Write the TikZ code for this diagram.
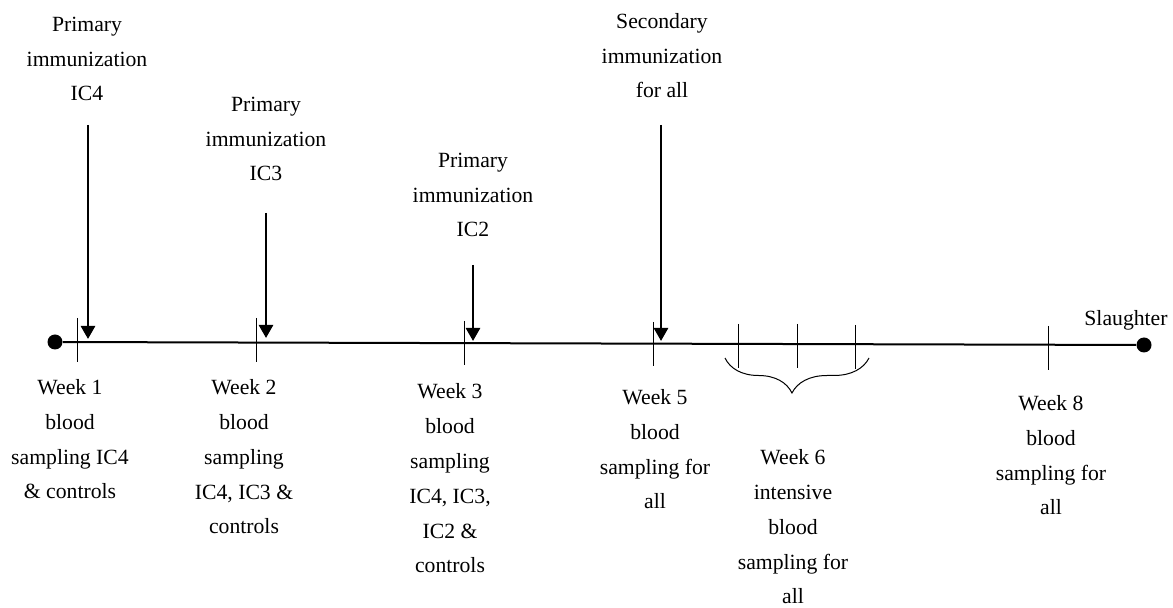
\documentclass[tikz,border=0pt]{standalone}
\usepackage{fontspec}
\setmainfont{Liberation Serif}
\usetikzlibrary{arrows.meta,decorations.pathreplacing}

\begin{document}
\begin{tikzpicture}[x=0.5pt,y=-0.5pt,
	font=\fontsize{10.85}{17.4}\selectfont,
	txt/.style={align=center, anchor=base, inner sep=0pt},
	dot/.style={circle, fill=black, inner sep=0pt, minimum size=7.5pt},
	timeline/.style={line width=1pt},
	strich/.style={line width=0.5pt},
	pfeil/.style={line width=1.3pt, -{Triangle[length=6.5pt,width=7pt]}},
	klammer/.style={line width=0.5pt, decorate,
		decoration={brace, mirror, amplitude=17.5pt, aspect=0.465}}]
	
	% Bildgroesse
	\useasboundingbox (0,0) rectangle (1173,608);
	
	% Zeitachse
	\node[dot] (start) at (55,342) {};
	\node[dot] (ende) at (1144,345) {};
	\draw[timeline] (start) -- (ende);
	\node[txt] (slaughter) at (1126,326) {Slaughter};
	
	% Wochenstriche
	\foreach \x/\y in {77/318, 256/318, 464/321, 653/322, 738/324, 797/324, 855/325, 1048/326}
		\draw[strich] (\x,\y) -- ++(0,44);
	
	% Immunisierungen (oben), Position = Grundlinie der letzten Zeile
	\node[txt] (imfour) at (87,101) {Primary\\immunization\\IC4};
	\node[txt] (imthree) at (266,181) {Primary\\immunization\\IC3};
	\node[txt] (imtwo) at (473,237) {Primary\\immunization\\IC2};
	\node[txt] (imsec) at (662,98) {Secondary\\immunization\\for all};
	
	% Pfeile
	\coordinate (pfour) at (88,125);    \coordinate (tfour) at (88,339);
	\coordinate (pthree) at (266,213);  \coordinate (tthree) at (266,338);
	\coordinate (ptwo) at (473,265);    \coordinate (ttwo) at (473,341);
	\coordinate (psec) at (661,125);    \coordinate (tsec) at (661,341);
	\draw[pfeil] (pfour) -- (tfour);
	\draw[pfeil] (pthree) -- (tthree);
	\draw[pfeil] (ptwo) -- (ttwo);
	\draw[pfeil] (psec) -- (tsec);
	
	% Blutentnahmen (unten)
	\node[txt] (wkone) at (70,499) {Week 1\\blood\\sampling IC4\\\& controls};
	\node[txt] (wktwo) at (244,534) {Week 2\\blood\\sampling\\IC4, IC3 \&\\controls};
	\node[txt] (wkthree) at (450,573) {Week 3\\blood\\sampling\\IC4, IC3,\\IC2 \&\\controls};
	\node[txt] (wkfive) at (655,509) {Week 5\\blood\\sampling for\\all};
	\node[txt] (wksix) at (793,604) {Week 6\\intensive\\blood\\sampling for\\all};
	\node[txt] (wkeight) at (1051,515) {Week 8\\blood\\sampling for\\all};
	
	% Klammer Woche 6
	\draw[klammer] (725,358) -- (869,358);
\end{tikzpicture}
\end{document}
